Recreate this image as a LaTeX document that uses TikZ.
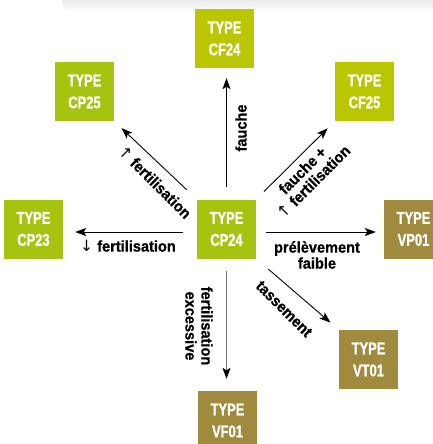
\documentclass[tikz,border=0pt]{standalone}
\usepackage{fontspec}
\newfontfamily\boxfont{Liberation Sans}[FakeStretch=0.76,FakeBold=1]
\newfontfamily\labfont{Liberation Sans}[FakeStretch=0.94,FakeBold=0.8]
\newfontfamily\arrfont{DejaVu Sans}
\usetikzlibrary{arrows.meta,fadings}
\definecolor{cpgreen}{HTML}{A6C40F}
\definecolor{cfgreen}{HTML}{B9C600}
\definecolor{vbrown}{HTML}{A08A3E}
\tikzfading[name=fadedown, top color=transparent!30, bottom color=transparent!100]
\begin{document}
\begin{tikzpicture}[x=1pt,y=-1pt,
  box/.style={minimum width=59pt, minimum height=59pt, inner sep=0pt, text=white, align=center,
    font=\boxfont\bfseries\fontsize{17}{22}\selectfont},
  lab/.style={inner sep=0pt, align=center, font=\labfont\bfseries\fontsize{15.5}{16}\selectfont},
  arr/.style={line width=0.9pt, -{Stealth[length=11pt,width=8pt,inset=2.5pt,color=black]}}]
\useasboundingbox (0,0) rectangle (433,444);
\clip (0,0) rectangle (433,444);
% top shadow
\fill[black, opacity=0.3, path fading=fadedown, rounded corners=10pt] (62,-20) rectangle (445,12);
% boxes
\node[box, fill=cfgreen] (cf24) at (224.5,38.5) {TYPE\\CF24};
\node[box, fill=cpgreen] (cp25) at (84.5,91.5) {TYPE\\CP25};
\node[box, fill=cfgreen] (cf25) at (364.5,91.5) {TYPE\\CF25};
\node[box, fill=cpgreen] (cp23) at (33.5,229) {TYPE\\CP23};
\node[box, fill=cpgreen] (cp24) at (226.5,229) {TYPE\\CP24};
\node[box, fill=vbrown] (vp01) at (413.5,229) {TYPE\\VP01};
\node[box, fill=vbrown] (vt01) at (368.5,359.5) {TYPE\\VT01};
\node[box, fill=vbrown] (vf01) at (227.5,420.5) {TYPE\\VF01};
% arrows
\draw[arr, shorten <=12pt, shorten >=10pt] (cp24.north) -- (cp24.north |- cf24.south);
\draw[arr, shorten <=14pt, shorten >=10pt] (cp24.north west) -- (cp25.south east);
\draw[arr, shorten <=11pt, shorten >=10pt] (cp24.north east) -- (cf25.south west);
\draw[arr, shorten <=14pt, shorten >=12pt] ([yshift=-3pt]cp24.west) -- ([yshift=-3pt]cp23.east);
\draw[arr, shorten <=10pt, shorten >=8pt] ([yshift=-3pt]cp24.east) -- ([yshift=-3pt]vp01.west);
\draw[arr, shorten <=16pt, shorten >=11pt] (cp24.south east) -- (vt01.north west);
\draw[arr, draw=black!55, shorten <=12pt, shorten >=12pt] (cp24.south) -- (cp24.south |- vf01.north);
% labels
\node[lab, rotate=90] (l1) at (241,128) {fauche};
\node[lab, rotate=-45] (l2) at (155,182) {{\arrfont\mdseries ↑} fertilisation};
\node[lab, rotate=45] (l3) at (308,176) {fauche +\\{\arrfont\mdseries ↑} fertilisation};
\node[lab] (l4) at (128,246) {{\arrfont\mdseries ↓} fertilisation};
\node[lab] (l5) at (317,255) {prélèvement\\faible};
\node[lab, rotate=-45] (l6) at (284,309) {tassement};
\node[lab, rotate=-90] (l7) at (199,326) {fertilisation\\excessive};
\end{tikzpicture}
\end{document}
